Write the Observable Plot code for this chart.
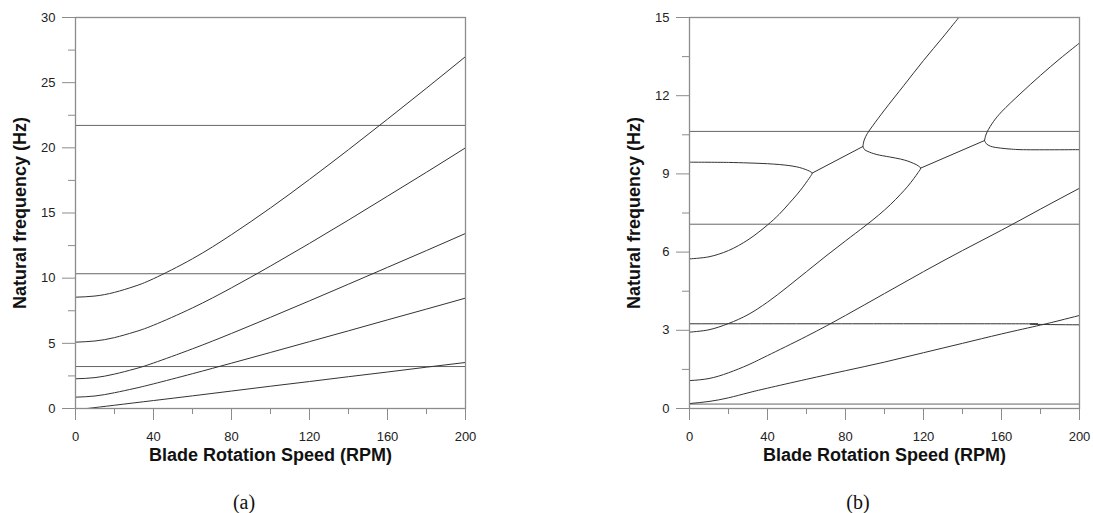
<!DOCTYPE html>
<html><head><meta charset="utf-8">
<script src="https://cdn.jsdelivr.net/npm/d3@7"></script>
<script src="https://cdn.jsdelivr.net/npm/@observablehq/plot@0.6"></script>
<style>
body{margin:0;background:#fff;}
#fig{position:relative;width:1093px;height:513px;overflow:hidden;background:#fff;font-family:"Liberation Sans",Arial,sans-serif;}
.panel{position:absolute;top:0;}
.cap{position:absolute;top:491px;line-height:22px;font-family:"Liberation Serif","Times New Roman",serif;font-size:20px;color:#111;transform:translateX(-50%);white-space:nowrap;}
#fig svg g[aria-label$="tick label"]{font-size:13px !important;font-family:"Liberation Sans",Arial,sans-serif !important;}
</style></head><body>
<div id="fig">
  <div id="a" class="panel" style="left:0px"></div>
  <div id="b" class="panel" style="left:614px"></div>
  <div class="cap" style="left:244px">(a)</div>
  <div class="cap" style="left:858px">(b)</div>
</div>
<script>
// ---------- shared axis data ----------
const xLabel = "Blade Rotation Speed (RPM)";
const yLabel = "Natural frequency (Hz)";
const rpmTicks = [0, 40, 80, 120, 160, 200];
const rpmMinorTicks = [20, 60, 100, 140, 180];

// ---------- panel (a) ----------
const leftFreqTicks = [0, 5, 10, 15, 20, 25, 30];
const leftFreqMinorTicks = [2.5, 7.5, 12.5, 17.5, 22.5, 27.5];
const leftRpm = [0, 10, 20, 30, 40, 60, 80, 100, 120, 140, 160, 180, 200];
const leftMode1 = [8.54, 8.63, 8.91, 9.36, 9.96, 11.49, 13.34, 15.39, 17.58, 19.86, 22.2, 24.58, 27.0];
const leftMode2 = [5.09, 5.18, 5.44, 5.86, 6.39, 7.72, 9.26, 10.93, 12.67, 14.46, 16.29, 18.13, 20.0];
const leftMode3 = [2.28, 2.37, 2.64, 3.02, 3.49, 4.58, 5.76, 7.0, 8.26, 9.54, 10.83, 12.12, 13.43];
const leftMode4 = [0.87, 0.96, 1.21, 1.53, 1.89, 2.67, 3.48, 4.30, 5.13, 5.96, 6.80, 7.63, 8.47];
const leftMode5Rpm = [6, 20, 40, 60, 80, 100, 120, 140, 160, 180, 200];
const leftMode5 = [0, 0.25, 0.61, 0.97, 1.34, 1.71, 2.07, 2.44, 2.80, 3.17, 3.53];
const leftConstantModes = [21.72, 10.34, 3.22];

// ---------- panel (b) ----------
const rightFreqTicks = [0, 3, 6, 9, 12, 15];
const rightFreqMinorTicks = [1.5, 4.5, 7.5, 10.5, 13.5];
const rightConstantModes = [10.63, 7.07, 0.17];
const rightFlatRpm = [0, 160, 175, 185, 200];
const rightFlat = [3.25, 3.25, 3.24, 3.22, 3.21];
const rightLoop1Rpm = [0, 20, 30, 40, 46, 51, 55, 58, 60.5, 62.2, 62.9, 62, 60.5, 58.1, 55, 51, 46, 40, 30, 20, 10, 0];
const rightLoop1 = [9.45, 9.44, 9.42, 9.39, 9.36, 9.32, 9.27, 9.21, 9.14, 9.08, 9.03, 8.9, 8.74, 8.49, 8.2, 7.86, 7.45, 7.04, 6.47, 6.06, 5.82, 5.74];
const rightBridge1Rpm = [62.9, 88.9];
const rightBridge1 = [9.03, 10.05];
const rightUpper1Rpm = [88.9, 89.6, 91.2, 94, 100, 110, 120, 130, 138.1];
const rightUpper1 = [10.05, 10.3, 10.55, 10.85, 11.45, 12.4, 13.35, 14.25, 15.0];
const rightLoop2Rpm = [88.9, 89.8, 91.5, 95.7, 102.6, 108.2, 112, 115, 117.3, 118.5, 117.3, 115, 112, 108, 103, 97, 90, 80, 70, 60, 50, 40, 30, 20, 10, 0];
const rightLoop2 = [10.05, 9.93, 9.86, 9.75, 9.65, 9.57, 9.49, 9.40, 9.31, 9.22, 9.06, 8.82, 8.53, 8.2, 7.82, 7.42, 7.0, 6.43, 5.85, 5.25, 4.65, 4.08, 3.6, 3.26, 3.02, 2.93];
const rightBridge2Rpm = [118.5, 151.3];
const rightBridge2 = [9.22, 10.28];
const rightUpper2Rpm = [151.3, 151.8, 152.7, 156, 160, 170, 180, 190, 200];
const rightUpper2 = [10.28, 10.45, 10.62, 11.02, 11.38, 12.1, 12.78, 13.42, 14.02];
const rightLower2Rpm = [151.3, 152.2, 154.4, 159.5, 165, 170, 200];
const rightLower2 = [10.28, 10.16, 10.06, 9.99, 9.95, 9.93, 9.93];
const rightMode4Rpm = [0, 10, 20, 30, 40, 60, 80, 100, 120, 140, 160, 180, 200];
const rightMode4 = [1.07, 1.15, 1.37, 1.67, 2.03, 2.77, 3.57, 4.41, 5.25, 6.06, 6.84, 7.65, 8.45];
const rightMode5Rpm = [0, 10, 20, 30, 40, 60, 80, 100, 120, 140, 160, 180, 190, 200];
const rightMode5 = [0.19, 0.27, 0.41, 0.6, 0.78, 1.12, 1.45, 1.78, 2.14, 2.50, 2.86, 3.2, 3.38, 3.57];

// ---------- build rows ----------
function rows(name, xs, ys) { return xs.map((x, i) => ({series: name, rpm: x, freq: ys[i]})); }

const leftRows = [
  ...rows("m1", leftRpm, leftMode1),
  ...rows("m2", leftRpm, leftMode2),
  ...rows("m3", leftRpm, leftMode3),
  ...rows("m4", leftRpm, leftMode4),
  ...rows("m5", leftMode5Rpm, leftMode5)
];
const rightSmooth = [
  ...rows("flat", rightFlatRpm, rightFlat),
  ...rows("m4", rightMode4Rpm, rightMode4),
  ...rows("m5", rightMode5Rpm, rightMode5)
];
const rightLoops = [
  ...rows("loop1", rightLoop1Rpm, rightLoop1),
  ...rows("bridge1", rightBridge1Rpm, rightBridge1),
  ...rows("upper1", rightUpper1Rpm, rightUpper1),
  ...rows("loop2", rightLoop2Rpm, rightLoop2),
  ...rows("bridge2", rightBridge2Rpm, rightBridge2),
  ...rows("upper2", rightUpper2Rpm, rightUpper2),
  ...rows("lower2", rightLower2Rpm, rightLower2)
];

const axisGray = "#8c8c8c";
const font = "'Liberation Sans', Arial, sans-serif";
const lineStyle = {x: "rpm", y: "freq", z: "series", stroke: "#333", strokeWidth: 1};

function panel(o) {
  return Plot.plot({
    width: o.width, height: 470,
    marginLeft: 75, marginRight: o.marginRight, marginTop: 17, marginBottom: 62,
    style: {fontFamily: font, fontSize: "13px", background: "transparent", overflow: "visible", color: "#222"},
    x: {domain: [0, 200], label: null},
    y: {domain: o.yDomain, label: null},
    marks: [
      Plot.ruleY(o.rules, {stroke: "#666", strokeWidth: 1}),
      Plot.line(o.smooth, {...lineStyle, curve: "natural"}),
      Plot.line(o.loops, {...lineStyle, curve: "catmull-rom"}),
      Plot.frame({stroke: axisGray, strokeWidth: 1.3}),
      Plot.axisX(rpmMinorTicks, {tickSize: 6, tickFormat: () => "", stroke: axisGray, label: null}),
      Plot.axisX(rpmTicks, {tickSize: 12, tickPadding: 11, stroke: axisGray, fill: "#222", fontSize: 13, label: null}),
      Plot.axisY(o.yMinor, {tickSize: 7, tickFormat: () => "", stroke: axisGray, label: null}),
      Plot.axisY(o.yMajor, {tickSize: 13, tickPadding: 7, stroke: axisGray, fill: "#222", fontSize: 13, label: null}),
      Plot.text([xLabel], {text: d => d, frameAnchor: "bottom", lineAnchor: "middle", textAnchor: "middle", dy: 47, fontWeight: "bold", fontSize: 18, fill: "#111"}),
      Plot.text([yLabel], {text: d => d, frameAnchor: "left", lineAnchor: "middle", textAnchor: "middle", dx: -55, rotate: -90, fontWeight: "bold", fontSize: 18, fill: "#111"})
    ]
  });
}

document.getElementById("a").append(panel({
  width: 480, marginRight: 15, yDomain: [0, 30],
  yMajor: leftFreqTicks, yMinor: leftFreqMinorTicks,
  rules: leftConstantModes, smooth: leftRows, loops: []
}));
document.getElementById("b").append(panel({
  width: 477, marginRight: 12, yDomain: [0, 15],
  yMajor: rightFreqTicks, yMinor: rightFreqMinorTicks,
  rules: rightConstantModes, smooth: rightSmooth, loops: rightLoops
}));
</script>
</body></html>
